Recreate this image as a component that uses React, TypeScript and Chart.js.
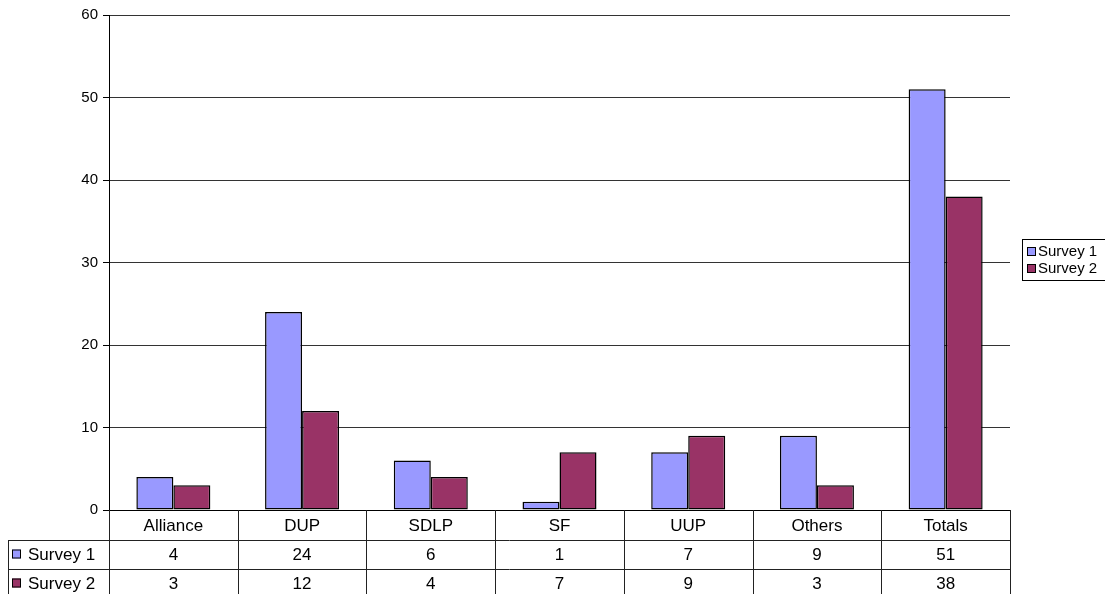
import React, { useEffect, useRef } from "react";
import { Chart, registerables } from "chart.js";

Chart.register(...registerables);

const categories = ["Alliance", "DUP", "SDLP", "SF", "UUP", "Others", "Totals"];
const seriesNames = ["Survey 1", "Survey 2"];
const survey1 = [4, 24, 6, 1, 7, 9, 51];
const survey2 = [3, 12, 4, 7, 9, 3, 38];
const seriesColors = ["#9999FF", "#993366"];
const yMin = 0;
const yMax = 60;
const yStep = 10;

const FONT = "'Liberation Sans', Arial, sans-serif";

const tablePlugin = {
  id: "dataTableAndLegend",
  afterDraw(chart: any) {
    const ctx = chart.ctx as CanvasRenderingContext2D;
    const area = chart.chartArea;
    const xs = chart.scales.x;
    const n = categories.length;
    const w = (area.right - area.left) / n;
    const top = area.bottom;
    const row1 = top + 30;
    const row2 = row1 + 29;
    const row3 = row2 + 29;
    const headerLeft = 8;
    const H = chart.height;
    const allRows = [survey1, survey2];

    ctx.save();
    ctx.strokeStyle = "#222";
    ctx.lineWidth = 1;
    ctx.beginPath();
    for (let i = 0; i <= n; i++) {
      const x = Math.round(area.left + i * w) + 0.5;
      ctx.moveTo(x, top);
      ctx.lineTo(x, H);
    }
    ctx.moveTo(headerLeft + 0.5, row1);
    ctx.lineTo(headerLeft + 0.5, H);
    [row1, row2, row3].forEach((y) => {
      ctx.moveTo(headerLeft, Math.round(y) + 0.5);
      ctx.lineTo(Math.round(area.right) + 1, Math.round(y) + 0.5);
    });
    ctx.stroke();

    ctx.fillStyle = "#000";
    ctx.font = `17px ${FONT}`;
    ctx.textAlign = "center";
    ctx.textBaseline = "middle";
    categories.forEach((c, i) => {
      const cx = xs.getPixelForValue(i);
      ctx.fillText(c, cx, (top + row1) / 2 + 1);
      ctx.fillText(String(allRows[0][i]), cx, (row1 + row2) / 2 + 1);
      ctx.fillText(String(allRows[1][i]), cx, (row2 + row3) / 2 + 1);
    });

    // row headers
    [row1, row2].forEach((y0, r) => {
      const cy = y0 + 14.5;
      ctx.fillStyle = seriesColors[r];
      ctx.fillRect(12, cy - 5, 9, 9);
      ctx.strokeStyle = "#000";
      ctx.strokeRect(12.5, cy - 4.5, 8, 8);
      ctx.fillStyle = "#000";
      ctx.textAlign = "left";
      ctx.fillText(seriesNames[r], 28, cy + 1);
    });

    // legend
    const lx = 1022;
    const ly = 239;
    ctx.strokeStyle = "#000";
    ctx.strokeRect(lx + 0.5, ly + 0.5, 100, 41);
    ctx.font = `15px ${FONT}`;
    seriesNames.forEach((s, r) => {
      const cy = ly + 12 + r * 17;
      ctx.fillStyle = seriesColors[r];
      ctx.fillRect(1027, cy - 4, 9, 9);
      ctx.strokeStyle = "#000";
      ctx.strokeRect(1027.5, cy - 3.5, 8, 8);
      ctx.fillStyle = "#000";
      ctx.textAlign = "left";
      ctx.fillText(s, 1038, cy + 1);
    });
    ctx.restore();
  },
};

export default function App() {
  const ref = useRef<HTMLCanvasElement>(null);
  useEffect(() => {
    if (!ref.current) return;
    const chart = new Chart(ref.current, {
      type: "bar",
      data: {
        labels: categories,
        datasets: [
          {
            label: seriesNames[0],
            data: survey1,
            backgroundColor: seriesColors[0],
            borderColor: "#000",
            borderWidth: 1.5,
            borderSkipped: false,
          },
          {
            label: seriesNames[1],
            data: survey2,
            backgroundColor: seriesColors[1],
            borderColor: "#000",
            borderWidth: 1.5,
            borderSkipped: false,
          },
        ],
      },
      options: {
        responsive: false,
        animation: false,
        devicePixelRatio: 1,
        layout: { padding: { left: 0, top: 15, right: 95, bottom: 84 } },
        plugins: { legend: { display: false }, tooltip: { enabled: false } },
        datasets: { bar: { categoryPercentage: 0.575, barPercentage: 1.0 } },
        scales: {
          x: { display: false },
          y: {
            min: yMin,
            max: yMax,
            afterFit: (scale: any) => {
              scale.width = 109;
            },
            ticks: {
              stepSize: yStep,
              color: "#000",
              font: { family: FONT, size: 15 },
              padding: 5,
            },
            grid: {
              color: (c: any) => (c.tick && c.tick.value === 0 ? "#000" : "#333"),
              tickColor: "#000",
              tickLength: 6,
              drawTicks: true,
            },
            border: { display: true, color: "#000", width: 1 },
          },
        },
      },
      plugins: [tablePlugin],
    });
    return () => chart.destroy();
  }, []);
  return (
    <div style={{ position: "fixed", left: 0, top: 0, width: 1105, height: 594, background: "#fff" }}>
      <canvas ref={ref} width={1105} height={594} style={{ display: "block" }} />
    </div>
  );
}
